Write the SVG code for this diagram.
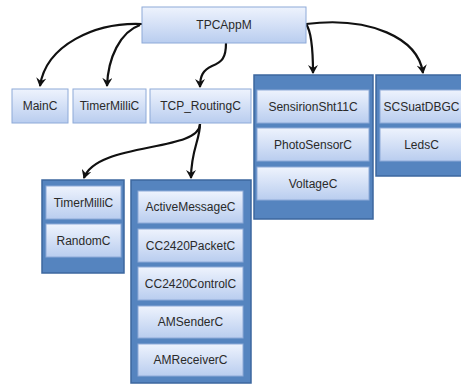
<svg xmlns="http://www.w3.org/2000/svg" width="461" height="388" viewBox="0 0 461 388">
<defs>
<linearGradient id="g" x1="0" y1="0" x2="0" y2="1">
<stop offset="0" stop-color="#eef3fd"/>
<stop offset="1" stop-color="#b9cdef"/>
</linearGradient>
<marker id="ad" viewBox="0 0 10 10" refX="9" refY="5" markerWidth="10" markerHeight="10" markerUnits="userSpaceOnUse" orient="auto">
<path d="M1,0 L10,5 L1,10 L4,5 Z" fill="#111"/>
</marker>
</defs>
<style>
.box{fill:url(#g);stroke:#8eaad8;stroke-width:1}
.ctr{fill:#5584bf;stroke:#3c679f;stroke-width:1.5}
.t{font-family:"Liberation Sans",Arial,sans-serif;font-size:12px;fill:#2a2a2a;text-anchor:middle;dominant-baseline:central}
.c{fill:none;stroke:#111;stroke-width:2.2;marker-end:url(#ad)}
</style>
<rect width="461" height="388" fill="#fff"/>
<g id="connectors">
<path class="c" d="M142,24 C95,22 46,45 40,86"/>
<path class="c" d="M140,25 C120,32 108,58 107,86"/>
<path class="c" d="M226,43 C226,58 222,62 212,66 C203,70 200,76 200,87"/>
<path class="c" d="M306,24 C312,32 313,52 313,73"/>
<path class="c" d="M306,24 C370,16 418,38 423,73"/>
<path class="c" d="M200,124 C200,152 96,142 84,178"/>
<path class="c" d="M200,124 C200,140 191,150 191,178"/>
</g>
<g id="TPCAppM"><rect class="box" x="142" y="7" width="164" height="36"/><text class="t" x="224" y="25">TPCAppM</text></g>
<g id="MainC"><rect class="box" x="12" y="89" width="56" height="34"/><text class="t" x="40" y="106">MainC</text></g>
<g id="TimerMilliC"><rect class="box" x="73" y="89" width="73" height="34"/><text class="t" x="109.5" y="106">TimerMilliC</text></g>
<g id="TCP_RoutingC"><rect class="box" x="150" y="89" width="101" height="34"/><text class="t" x="200.5" y="106">TCP_RoutingC</text></g>
<g id="group_sensors">
<rect class="ctr" x="254" y="75" width="119" height="144"/>
<g id="SensirionSht11C"><rect class="box" x="257" y="90" width="112" height="33"/><text class="t" x="313" y="106.5">SensirionSht11C</text></g>
<g id="PhotoSensorC"><rect class="box" x="257" y="128" width="112" height="33"/><text class="t" x="313" y="144.5">PhotoSensorC</text></g>
<g id="VoltageC"><rect class="box" x="257" y="167" width="112" height="33"/><text class="t" x="313" y="183.5">VoltageC</text></g>
</g>
<g id="group_debug">
<rect class="ctr" x="376" y="75" width="92" height="101"/>
<g id="SCSuatDBGC"><rect class="box" x="380" y="90" width="83" height="33"/><text class="t" x="421.5" y="106.5">SCSuatDBGC</text></g>
<g id="LedsC"><rect class="box" x="380" y="128" width="83" height="33"/><text class="t" x="421.5" y="144.5">LedsC</text></g>
</g>
<g id="group_timer">
<rect class="ctr" x="42" y="180" width="82" height="93"/>
<g id="TimerMilliC2"><rect class="box" x="46" y="186" width="75" height="33"/><text class="t" x="83.5" y="202.5">TimerMilliC</text></g>
<g id="RandomC"><rect class="box" x="46" y="224" width="75" height="33"/><text class="t" x="83.5" y="240.5">RandomC</text></g>
</g>
<g id="group_radio">
<rect class="ctr" x="131" y="180" width="120" height="203"/>
<g id="ActiveMessageC"><rect class="box" x="138" y="191" width="105" height="32"/><text class="t" x="190.5" y="207">ActiveMessageC</text></g>
<g id="CC2420PacketC"><rect class="box" x="138" y="229" width="105" height="33"/><text class="t" x="190.5" y="245.5">CC2420PacketC</text></g>
<g id="CC2420ControlC"><rect class="box" x="138" y="267" width="105" height="33"/><text class="t" x="190.5" y="283.5">CC2420ControlC</text></g>
<g id="AMSenderC"><rect class="box" x="138" y="306" width="105" height="32"/><text class="t" x="190.5" y="322">AMSenderC</text></g>
<g id="AMReceiverC"><rect class="box" x="138" y="344" width="105" height="32"/><text class="t" x="190.5" y="360">AMReceiverC</text></g>
</g>
</svg>
